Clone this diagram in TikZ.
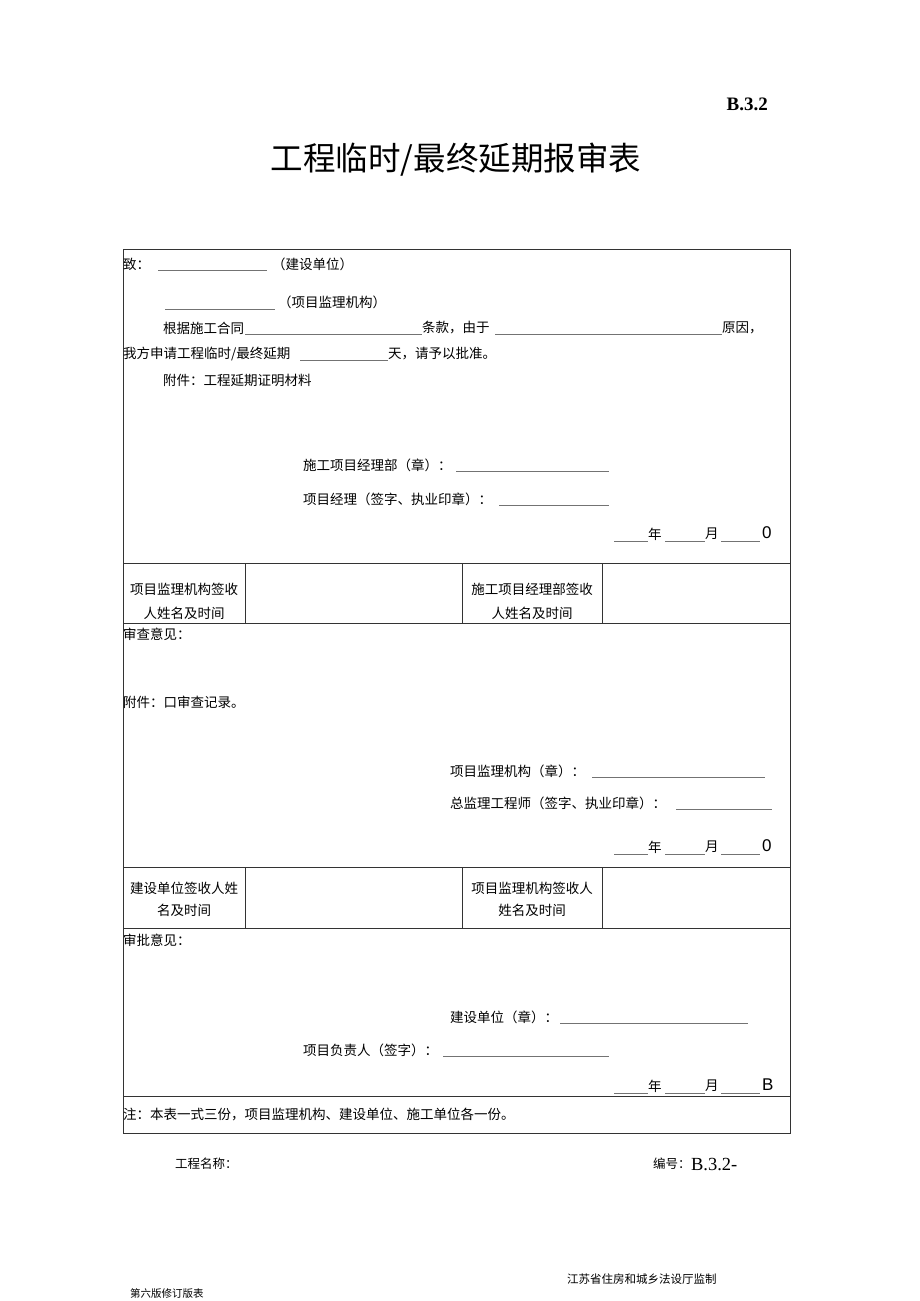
\documentclass[tikz,border=0pt]{standalone}
\usepackage{fontspec}
\newfontfamily\cjk{Noto Sans CJK SC}
\newfontfamily\tnr{Liberation Serif}
\newfontfamily\ari{Liberation Sans}
\newcommand\fillline[3]{\draw[ulstyle] (#1,#3) -- (#2,#3);}
\begin{document}
\begin{tikzpicture}[x=1pt,y=-1pt,
  frame/.style={draw=black!80, line width=0.9pt},
  ulstyle/.style={draw=black!55, line width=0.6pt},
  txt/.style={anchor=west, inner sep=0, font=\cjk\fontsize{13.5}{14}\selectfont, text=black},
  ctxt/.style={anchor=center, inner sep=0, font=\cjk\fontsize{13.5}{14}\selectfont, text=black},
  small/.style={anchor=west, inner sep=0, font=\cjk\fontsize{11.5}{12}\selectfont, text=black},
  dig/.style={anchor=west, inner sep=0, font=\ari\fontsize{17}{17}\selectfont}]
\useasboundingbox[fill=white] (0,0) rectangle (920,1301);

% header
\node[anchor=east, inner sep=0, font=\tnr\bfseries\fontsize{19}{19}\selectfont] (code) at (768,104) {B.3.2};
\node[anchor=center, inner sep=0, font=\cjk\fontsize{32.5}{33}\selectfont] (title) at (456,160) {工程临时/最终延期报审表};

% table frame
\draw[frame] (123,249) rectangle (790,1133);
\draw[frame] (123,563) -- (790,563);
\draw[frame] (123,623) -- (790,623);
\draw[frame] (123,867) -- (790,867);
\draw[frame] (123,928) -- (790,928);
\draw[frame] (123,1096) -- (790,1096);
\foreach \x in {245,462,602}{
  \draw[frame] (\x,563) -- (\x,623);
  \draw[frame] (\x,867) -- (\x,928);
}

% section 1
\node[txt] (a1) at (123,264) {致：};
\fillline{158}{267}{270}
\node[txt] (a2) at (272,264) {（建设单位）};
\fillline{165}{275}{309}
\node[txt] (a3) at (278,302) {（项目监理机构）};
\node[txt] (a4) at (163,328) {根据施工合同};
\fillline{245}{422}{334}
\node[txt] (a5) at (422,328) {条款，由于};
\fillline{495}{722}{334}
\node[txt] (a6) at (722,328) {原因，};
\node[txt] (a7) at (123,354) {我方申请工程临时/最终延期};
\fillline{300}{388}{360}
\node[txt] (a8) at (388,354) {天，请予以批准。};
\node[txt] (a9) at (163,380) {附件：工程延期证明材料};
\node[txt] (a10) at (303,465) {施工项目经理部（章）：};
\fillline{456}{609}{471}
\node[txt] (a11) at (303,499) {项目经理（签字、执业印章）：};
\fillline{499}{609}{505}
\fillline{614}{648}{541}
\node[txt] (d1a) at (648,534) {年};
\fillline{665}{705}{541}
\node[txt] (d1b) at (705,534) {月};
\fillline{721}{760}{541}
\node[dig] (d1c) at (762,533) {0};

% signature row 1
\node[ctxt] (s1) at (184,589) {项目监理机构签收};
\node[ctxt] (s2) at (184,613) {人姓名及时间};
\node[ctxt] (s3) at (532,589) {施工项目经理部签收};
\node[ctxt] (s4) at (532,613) {人姓名及时间};

% section 2
\node[txt] (b1) at (123,634) {审查意见：};
\node[txt] (b2) at (123,702) {附件：口审查记录。};
\node[txt] (b3) at (450,771) {项目监理机构（章）：};
\fillline{592}{765}{777}
\node[txt] (b4) at (450,803) {总监理工程师（签字、执业印章）：};
\fillline{676}{772}{809}
\fillline{614}{648}{854}
\node[txt] (d2a) at (648,847) {年};
\fillline{665}{705}{854}
\node[txt] (d2b) at (705,847) {月};
\fillline{721}{760}{854}
\node[dig] (d2c) at (762,846) {0};

% signature row 2
\node[ctxt] (s5) at (184,888) {建设单位签收人姓};
\node[ctxt] (s6) at (184,910) {名及时间};
\node[ctxt] (s7) at (532,888) {项目监理机构签收人};
\node[ctxt] (s8) at (532,910) {姓名及时间};

% section 3
\node[txt] (c1) at (123,940) {审批意见：};
\node[txt] (c2) at (450,1017) {建设单位（章）：};
\fillline{560}{748}{1023}
\node[txt] (c3) at (303,1050) {项目负责人（签字）：};
\fillline{443}{609}{1056}
\fillline{614}{648}{1093}
\node[txt] (d3a) at (648,1086) {年};
\fillline{665}{705}{1093}
\node[txt] (d3b) at (705,1086) {月};
\fillline{721}{760}{1093}
\node[dig] (d3c) at (762,1085) {B};

\node[txt] (n1) at (123,1114) {注：本表一式三份，项目监理机构、建设单位、施工单位各一份。};

% footer
\node[anchor=west, inner sep=0, font=\cjk\fontsize{12.5}{13}\selectfont] (f1) at (175,1164) {工程名称：};
\node[anchor=west, inner sep=0, font=\cjk\fontsize{12.5}{13}\selectfont] (f2) at (653,1164) {编号：};
\node[anchor=west, inner sep=0, font=\tnr\fontsize{18.5}{19}\selectfont] (f3) at (f2.east) {B.3.2-};
\node[small] (f4) at (567,1279) {江苏省住房和城乡法设厅监制};
\node[anchor=west, inner sep=0, font=\cjk\fontsize{10.5}{11}\selectfont] (f5) at (130,1293) {第六版修订版表};
\end{tikzpicture}
\end{document}
